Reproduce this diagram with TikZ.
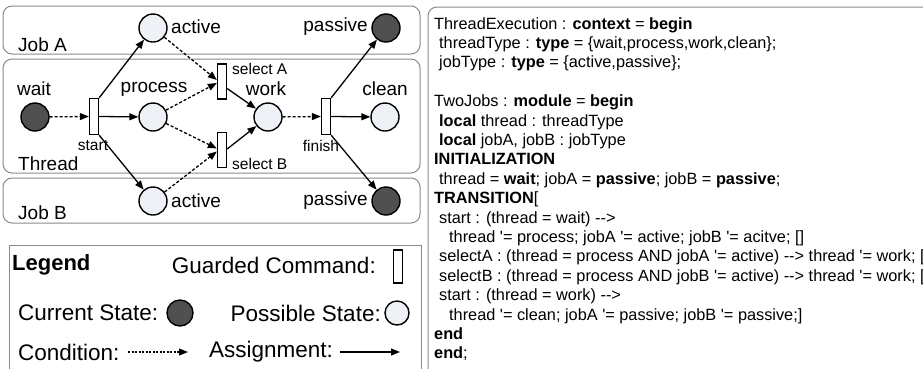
\documentclass[tikz,border=0pt]{standalone}
\usepackage{fontspec}
\setmainfont{Liberation Sans}
\usetikzlibrary{arrows.meta,calc}

\definecolor{boxgray}{HTML}{8A8A8A}
\definecolor{stateon}{HTML}{505050}
\definecolor{stateoff}{HTML}{EEF2F7}

\tikzset{
  panel/.style={draw=boxgray, line width=1pt, rounded corners=9pt},
  curstate/.style={circle, draw=black, line width=1.4pt, fill=stateon, minimum size=28pt, inner sep=0pt},
  posstate/.style={circle, draw=black, line width=1.4pt, fill=stateoff, minimum size=28pt, inner sep=0pt},
  guard/.style={rectangle, draw=black, line width=1.3pt, fill=white, minimum width=9pt, minimum height=36pt, inner sep=0pt},
  cond/.style={-{Triangle[length=9pt,width=7pt]}, line width=1.3pt, dash pattern=on 3pt off 2pt},
  assign/.style={-{Triangle[length=9pt,width=7pt]}, line width=1.3pt},
  lbl/.style={inner sep=0pt, font=\fontsize{19}{22}\selectfont},
  slbl/.style={inner sep=0pt, font=\fontsize{15.5}{18}\selectfont},
  leg/.style={inner sep=0pt, font=\fontsize{22.5}{26}\selectfont},
  codeln/.style={anchor=base west, inner sep=0pt, font=\fontsize{16.3}{19}\selectfont},
}

\newcommand{\ind}{\hspace*{5pt}}
\newcommand{\indd}{\hspace*{15pt}}
\newcommand{\q}{\textquotesingle}

\begin{document}
\begin{tikzpicture}[x=1pt,y=-1pt]
\useasboundingbox (0,0) rectangle (923,368);
\clip (0,0) rectangle (923,368);

% lanes
\draw[panel] (3,6) rectangle (420,54);
\draw[panel] (3,59) rectangle (420,173);
\draw[panel] (3,178) rectangle (420,223);
\draw[draw=boxgray, line width=1pt] (9,395) -- (9,245) -- (421,245) -- (421,395);

% places
\node[curstate] (wait) at (35,117) {};
\node[posstate] (proc) at (153,117) {};
\node[posstate] (actA) at (153,28) {};
\node[posstate] (actB) at (153,201) {};
\node[posstate] (work) at (268,117) {};
\node[posstate] (clean) at (385,117) {};
\node[curstate] (pasA) at (386,28) {};
\node[curstate] (pasB) at (386,201) {};

% guarded commands
\node[guard] (start) at (94,116.5) {};
\node[guard, minimum height=35pt] (selA) at (222,81.5) {};
\node[guard, minimum height=35pt] (selB) at (222,150) {};
\node[guard] (finish) at (326,116.5) {};

% labels
\node[lbl, anchor=west] (tJobA) at (18,45) {Job A};
\node[lbl, anchor=west] (tThread) at (18,164) {Thread};
\node[lbl, anchor=west] (tJobB) at (18,213) {Job B};
\node[lbl, anchor=west] (tActA) at (171,27) {active};
\node[lbl, anchor=west] (tActB) at (171,201) {active};
\node[lbl, anchor=east] (tPasA) at (368,27) {passive};
\node[lbl, anchor=east] (tPasB) at (368,201) {passive};
\node[lbl] (tWait) at (34,89) {wait};
\node[lbl] (tProc) at (154,89) {process};
\node[lbl] (tWork) at (266,89) {work};
\node[lbl] (tClean) at (385,89) {clean};
\node[slbl] (tStart) at (93,146) {start};
\node[slbl] (tFinish) at (321,146) {finish};
\node[slbl, anchor=west] (tSelA) at (232,69) {select A};
\node[slbl, anchor=west] (tSelB) at (232,164) {select B};

% conditions
\draw[cond] (wait) -- (start.west);
\draw[cond] (actA) -- ($(selA.west)+(0,-1.5)$);
\draw[cond] (proc) -- ($(selA.west)+(0,1.5)$);
\draw[cond] (proc) -- ($(selB.west)+(0,-1.5)$);
\draw[cond] (actB) -- ($(selB.west)+(0,1.5)$);
\draw[cond] (work) -- (finish.west);

% assignments
\draw[assign] (start.north east) -- (actA);
\draw[assign] (start.east) -- (proc);
\draw[assign] (start.south east) -- (actB);
\draw[assign] ($(selA.east)+(0,7)$) -- (work);
\draw[assign] ($(selB.east)+(0,-1)$) -- (work);
\draw[assign] (finish.north east) -- (pasA);
\draw[assign] (finish.east) -- (clean);
\draw[assign] (finish.south east) -- (pasB);

% legend
\node[leg, anchor=west, font=\fontsize{22}{26}\selectfont\bfseries] (lTitle) at (12,265) {Legend};
\node[leg, anchor=east] (lGuard) at (376,265) {Guarded Command:};
\node[guard, minimum height=33pt] (lGuardBox) at (398,266.5) {};
\node[leg, anchor=west] (lCur) at (18,313) {Current State:};
\node[curstate, minimum size=26pt] (lCurBox) at (180,313) {};
\node[leg, anchor=east] (lPos) at (381,313) {Possible State:};
\node[posstate, minimum size=24pt] (lPosBox) at (397,313) {};
\node[leg, anchor=west] (lCond) at (18,352) {Condition:};
\coordinate (lCondA) at (128,352);
\coordinate (lCondB) at (188,352);
\draw[cond, line width=1.1pt, dash pattern=on 2pt off 1.5pt] (lCondA) -- (lCondB);
\node[leg, anchor=west] (lAsg) at (209,352) {Assignment:};
\coordinate (lAsgA) at (340,352);
\coordinate (lAsgB) at (400,352);
\draw[assign] (lAsgA) -- (lAsgB);

% SAL listing
\draw[panel] (428,395) -- (428,7) -- (960,7);
\node[codeln] (c1)  at (434,29)    {ThreadExecution : \textbf{context} = \textbf{begin}};
\node[codeln] (c2)  at (434,48.4)  {\ind threadType : \textbf{type} = \{wait,process,work,clean\};};
\node[codeln] (c3)  at (434,67.8)  {\ind jobType : \textbf{type} = \{active,passive\};};
\node[codeln] (c5)  at (434,106.6) {TwoJobs : \textbf{module} = \textbf{begin}};
\node[codeln] (c6)  at (434,126.0) {\ind \textbf{local} thread : threadType};
\node[codeln] (c7)  at (434,145.4) {\ind \textbf{local} jobA, jobB : jobType};
\node[codeln] (c8)  at (434,164.8) {\textbf{INITIALIZATION}};
\node[codeln] (c9)  at (434,184.2) {\ind thread = \textbf{wait}; jobA = \textbf{passive}; jobB = \textbf{passive};};
\node[codeln] (c10) at (434,203.6) {\textbf{TRANSITION}[};
\node[codeln] (c11) at (434,223.0) {\ind start : (thread = wait) -{}->};
\node[codeln] (c12) at (434,242.4) {\indd thread \q= process; jobA \q= active; jobB \q= acitve; []};
\node[codeln] (c13) at (434,261.8) {\ind selectA : (thread = process AND jobA \q= active) -{}-> thread \q= work; [};
\node[codeln] (c14) at (434,281.2) {\ind selectB : (thread = process AND jobB \q= active) -{}-> thread \q= work; [};
\node[codeln] (c15) at (434,300.6) {\ind start : (thread = work) -{}->};
\node[codeln] (c16) at (434,320.0) {\indd thread \q= clean; jobA \q= passive; jobB \q= passive;]};
\node[codeln] (c17) at (434,339.4) {\textbf{end}};
\node[codeln] (c18) at (434,358.8) {\textbf{end};};
\end{tikzpicture}
\end{document}
